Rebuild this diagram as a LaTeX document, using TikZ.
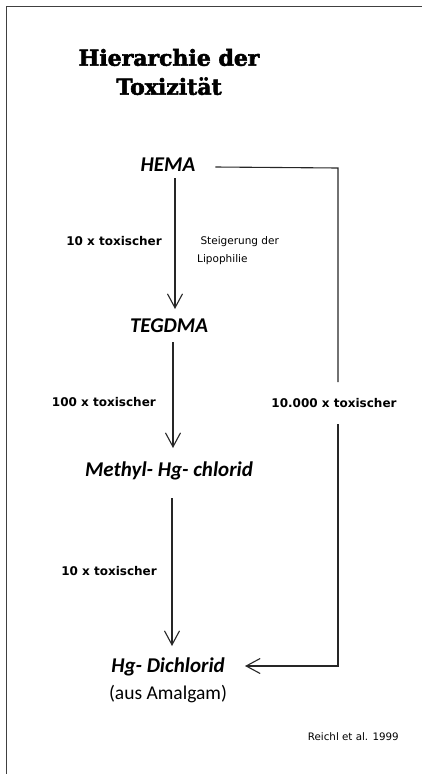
\documentclass[tikz,border=0pt]{standalone}
\usepackage{fontspec}
\setmainfont{Carlito}
\newfontfamily\titlefont[BoldFeatures={FakeBold=2.5}]{DejaVu Serif}
\newfontfamily\labelfont{DejaVu Sans}
\usetikzlibrary{arrows.meta}
\tikzset{
  chem/.style={font=\fontsize{21}{24}\selectfont\bfseries\itshape, inner sep=1pt},
  lbl/.style={font=\labelfont\fontsize{12}{14}\selectfont\bfseries, inner sep=1pt},
  note/.style={font=\labelfont\fontsize{10.5}{18}\selectfont, inner sep=1pt, align=left},
  conn/.style={line width=1.1pt, draw=black!85},
  arr/.style={conn, -{Straight Barb[length=14pt,width=15pt,line width=1.1pt]}},
}
\begin{document}
\begin{tikzpicture}[x=1pt,y=-1pt]
\useasboundingbox (0,0) rectangle (422,774);
\draw[line width=1.2pt, black!75] (6.5,774) -- (6.5,6.5) -- (422,6.5);
\node[align=center, font=\titlefont\fontsize{22}{29}\selectfont\bfseries] (title) at (169,72) {Hierarchie der\\Toxizität};
\node[chem] (hema) at (168,165) {HEMA};
\node[chem] (teg) at (169,326) {TEGDMA};
\node[chem] (meth) at (169,471) {Methyl- Hg- chlorid};
\node[chem] (hg) at (168,667) {Hg- Dichlorid};
\node[font=\fontsize{19.5}{22}\selectfont, inner sep=1pt] (amal) at (168,694) {(aus Amalgam)};
\node[lbl, anchor=east] (l1) at (163,241) {10 x toxischer};
\node[note, anchor=north west] (steig) at (196,235) {\ Steigerung der\\Lipophilie};
\node[lbl, anchor=east] (l2) at (157,402) {100 x toxischer};
\node[lbl] (l4) at (334,403) {10.000 x toxischer};
\node[lbl, anchor=east] (l3) at (158,571) {10 x toxischer};
\node[font=\labelfont\fontsize{10.3}{12}\selectfont, inner sep=1pt, anchor=east] (ref) at (400,737) {Reichl et al. 1999};
\coordinate (c1) at (338,168);
\coordinate (c2) at (338,666);
\draw[arr] (175,178) -- (175,309);
\draw[arr] (173,342) -- (173,448);
\draw[arr] (172,498) -- (172,646);
\draw[conn] (hema.east) ++(19,2) -- (c1) -- (c1 |- 0,382);
\draw[arr] (c1 |- 0,424) -- (c2) -- (245,666);
\end{tikzpicture}
\end{document}
